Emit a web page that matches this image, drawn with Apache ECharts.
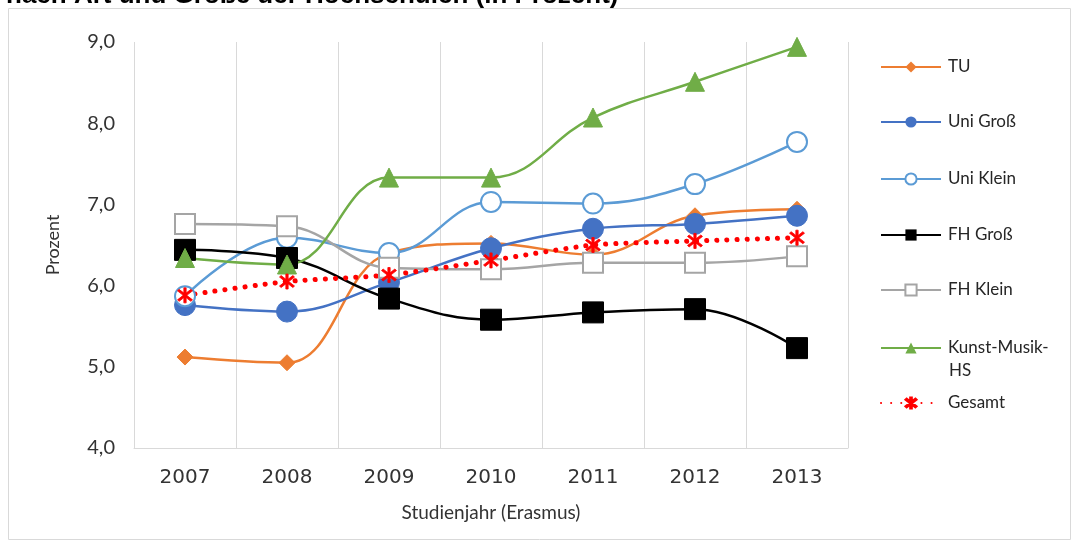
<!DOCTYPE html>
<html>
<head>
<meta charset="utf-8">
<style>
  html, body { margin: 0; padding: 0; background: #fff; }
  #chart { width: 1074px; height: 544px; }
</style>
<script src="https://cdn.jsdelivr.net/npm/echarts@6/dist/echarts.min.js"></script>
</head>
<body>
<div id="chart"></div>
<script>
        // Daten
        const years = ['2007', '2008', '2009', '2010', '2011', '2012', '2013'];
        const seriesNames = ['TU', 'Uni Groß', 'Uni Klein', 'FH Groß', 'FH Klein', 'Kunst-Musik-HS', 'Gesamt'];
        const tu = [5.12, 5.05, 6.40, 6.52, 6.38, 6.86, 6.94];
        const uniGross = [5.76, 5.68, 6.04, 6.46, 6.70, 6.76, 6.86];
        const uniKlein = [5.87, 6.59, 6.40, 7.03, 7.01, 7.25, 7.77];
        const fhGross = [6.44, 6.34, 5.84, 5.58, 5.67, 5.71, 5.23];
        const fhKlein = [6.76, 6.73, 6.22, 6.20, 6.28, 6.28, 6.36];
        const kunstMusik = [6.34, 6.26, 7.33, 7.33, 8.07, 8.51, 8.94];
        const gesamt = [5.88, 6.05, 6.13, 6.31, 6.50, 6.55, 6.59];

        const chartDom = document.getElementById('chart');
        const myChart = echarts.init(chartDom);

        const font = 'Lato, "Open Sans", sans-serif';
        const asterisk = 'path://M4.3 0 L5.7 0 L5.7 10 L4.3 10 Z M0.4 2 L1.4 1 L9.6 8 L8.6 9 Z M8.6 1 L9.6 2 L1.4 9 L0.4 8 Z';

        function line(name, data, color, symbol, size, extra) {
            return Object.assign({
                name: name,
                type: 'line',
                data: data,
                smooth: 0.4,
                symbol: symbol,
                symbolSize: size,
                lineStyle: { color: color, width: 2.5 },
                itemStyle: { color: color, borderColor: color },
                emphasis: { disabled: true }
            }, extra || {});
        }

        const seriesList = [
            line(seriesNames[0], tu, '#ED7D31', 'diamond', 16),
            line(seriesNames[1], uniGross, '#4472C4', 'circle', 21),
            line(seriesNames[2], uniKlein, '#5B9BD5', 'emptyCircle', 20, {
                itemStyle: { color: '#5B9BD5', borderColor: '#5B9BD5', borderWidth: 2 }
            }),
            line(seriesNames[3], fhGross, '#000000', 'rect', 21),
            line(seriesNames[4], fhKlein, '#A5A5A5', 'emptyRect', 20, {
                itemStyle: { color: '#A5A5A5', borderColor: '#A5A5A5', borderWidth: 2 }
            }),
            line(seriesNames[5], kunstMusik, '#70AD47', 'triangle', 19),
            line(seriesNames[6], gesamt, '#FF0000', asterisk, 15, {
                smooth: 0.2,
                lineStyle: { color: '#FF0000', width: 5, type: [0.1, 10], cap: 'round' },
                itemStyle: { color: '#FF0000', borderColor: '#FF0000', borderWidth: 0.8 }
            })
        ];

        // Legende: eine Komponente pro Eintrag, damit die Abstände passen
        const legendTops = [67, 122, 179, 235, 290, 348, 403];
        const legends = seriesNames.map((n, i) => ({
            data: [n],
            orient: 'vertical',
            left: 880,
            top: legendTops[i] - 10,
            padding: 0,
            itemWidth: 60,
            itemHeight: 14,
            itemGap: 7,
            selectedMode: false,
            formatter: (name) => name === 'Kunst-Musik-HS' ? 'Kunst-Musik-' : name,
            textStyle: { fontFamily: font, fontSize: 17, color: '#262626', lineHeight: 20, padding: [0, 0, 0, 2] }
        }));

        const option = {
            animation: false,
            title: {
                left: 6,
                top: -17,
                padding: 0,
                text: '{b|nach Art und Größe der Hochschulen}{n| (in Prozent)}',
                textStyle: {
                    rich: {
                        b: { fontFamily: '"Liberation Sans", Arial, sans-serif', fontSize: 26, fontWeight: 'bold', color: '#000' },
                        n: { fontFamily: '"Liberation Sans", Arial, sans-serif', fontSize: 26, color: '#000' }
                    }
                }
            },
            graphic: [
                {
                    type: 'rect',
                    shape: { x: 8.5, y: 8.5, width: 1062, height: 531 },
                    style: { fill: 'none', stroke: '#d9d9d9', lineWidth: 1 },
                    z: -1
                },
                {
                    type: 'text',
                    left: 949,
                    top: 362,
                    style: { text: 'HS', font: '17px ' + font, fill: '#262626' }
                }
            ],
            legend: legends,
            grid: {
                left: 134,
                right: 226,
                top: 42,
                bottom: 96
            },
            xAxis: {
                type: 'category',
                data: years,
                boundaryGap: true,
                name: 'Studienjahr (Erasmus)',
                nameLocation: 'middle',
                nameGap: 55,
                nameTextStyle: { fontFamily: font, fontSize: 19, color: '#333' },
                axisLine: { lineStyle: { color: '#d9d9d9' } },
                axisTick: { show: false },
                axisLabel: {
                    margin: 20,
                    fontFamily: '"DejaVu Sans", sans-serif',
                    fontSize: 20,
                    color: '#333'
                },
                splitLine: { show: true, lineStyle: { color: '#d9d9d9' } }
            },
            yAxis: {
                type: 'value',
                min: 4,
                max: 9,
                interval: 1,
                name: 'Prozent',
                nameLocation: 'middle',
                nameGap: 72,
                nameRotate: 90,
                nameTextStyle: { fontFamily: font, fontSize: 18, color: '#333' },
                axisLine: { show: false },
                axisTick: { show: false },
                splitLine: { show: false },
                axisLabel: {
                    margin: 19,
                    fontFamily: font,
                    fontSize: 20,
                    color: '#333',
                    formatter: (v) => v.toFixed(1).replace('.', ',')
                }
            },
            series: seriesList
        };

        myChart.setOption(option);

        window.addEventListener('resize', () => {
            myChart.resize();
        });
</script>
</body>
</html>
